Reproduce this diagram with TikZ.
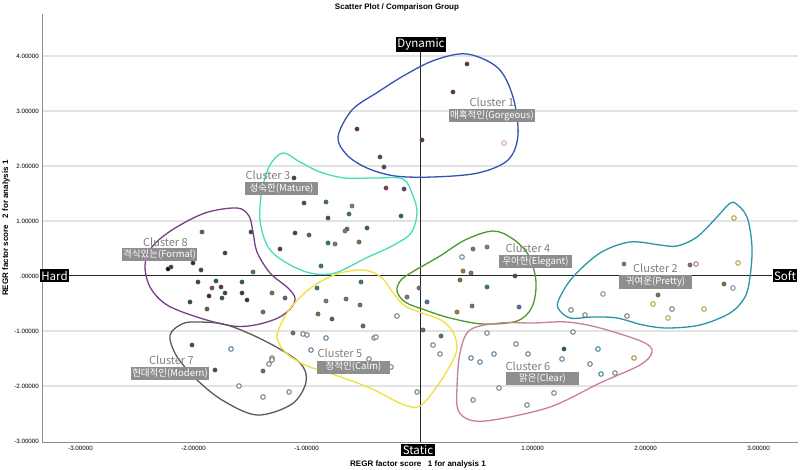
\documentclass[tikz,border=0pt]{standalone}
\usepackage{fontspec}
\setmainfont{Liberation Sans}
\newfontfamily\krfont{Noto Sans CJK KR}
\usepackage{tikz}
\usetikzlibrary{positioning}
\definecolor{axgray}{HTML}{8C8C8C}
\definecolor{gridgray}{HTML}{E3E3E3}
\definecolor{clgray}{HTML}{808080}
\definecolor{boxgray}{HTML}{8E8E8E}
\definecolor{hullA}{HTML}{3354AC}
\definecolor{hullB}{HTML}{2A95A8}
\definecolor{hullC}{HTML}{46DDBA}
\definecolor{hullD}{HTML}{4A9A30}
\definecolor{hullE}{HTML}{F0E03A}
\definecolor{hullF}{HTML}{CC7F98}
\definecolor{hullG}{HTML}{5A5A5A}
\definecolor{hullH}{HTML}{7A3E88}
\definecolor{dred}{HTML}{6E2A3A}
\definecolor{purp}{HTML}{5E3A70}
\definecolor{mag}{HTML}{9A2A50}
\definecolor{pinkl}{HTML}{D89AAA}
\definecolor{pinkd}{HTML}{A0707A}
\definecolor{navy}{HTML}{1F4A6A}
\definecolor{teal}{HTML}{2A7A90}
\definecolor{lilac}{HTML}{8A7A9E}
\definecolor{dgreen}{HTML}{1F5A48}
\definecolor{pgreen}{HTML}{2A6E3E}
\definecolor{steel}{HTML}{4A6E8E}
\definecolor{taupe}{HTML}{8A7870}
\definecolor{brown}{HTML}{7A5A34}
\definecolor{olive}{HTML}{7A7440}
\definecolor{dbrown}{HTML}{3A2A20}
\definecolor{dteal}{HTML}{1E5A6A}
\definecolor{dpurp}{HTML}{3E2A4E}
\definecolor{sage}{HTML}{6A7A6A}
\definecolor{slate}{HTML}{3E4A58}
\definecolor{rose}{HTML}{9A6A72}
\definecolor{porange}{HTML}{B07A34}
\definecolor{pgray}{HTML}{6C7078}
\definecolor{pblue}{HTML}{3A7AB0}
\definecolor{yel}{HTML}{A89A38}
\tikzstyle{dirbox} = [fill=black,text=white,font=\krfont\fontsize{11.5}{12}\selectfont,inner sep=1.5pt]
\tikzstyle{clustname} = [text=clgray,font=\krfont\fontsize{11}{12}\selectfont,inner sep=0pt]
\tikzstyle{clustbox} = [fill=boxgray,text=white,font=\krfont\fontsize{9.5}{10}\selectfont,inner sep=1pt,minimum width=73pt,minimum height=13pt]
\tikzstyle{ticklab} = [font=\fontsize{6.2}{7}\selectfont,inner sep=1pt]
\tikzstyle{axtitle} = [font=\bfseries\fontsize{8}{9}\selectfont,inner sep=0pt]
\tikzstyle{hull} = [line width=1.3pt]
\tikzstyle{dotf} = [line width=0.5pt,draw=black!65]
\tikzstyle{doto} = [line width=0.9pt,fill=white]

\begin{document}
\begin{tikzpicture}[x=1pt,y=-1pt]
	\useasboundingbox (0,0) rectangle (800,470);
	\fill[white] (0,0) rectangle (800,470);
	% grid and frame
	\foreach \gy in {56,111,166,221,331,386}
		\draw[gridgray,line width=1.2pt] (43,\gy) -- (798,\gy);
	\draw[axgray,line width=1pt] (42,14) -- (42,442) -- (798,442);
	\foreach \gy/\lab in {56/4.00000,111/3.00000,166/2.00000,221/1.00000,276/.00000,331/-1.00000,386/-2.00000,441/-3.00000}
		\node[ticklab,anchor=east] at (40,\gy) {\lab};
	\foreach \gx/\lab in {80.5/-3.00000,193.5/-2.00000,306.5/-1.00000,532.5/1.00000,645.5/2.00000,758.5/3.00000}
		\node[ticklab] at (\gx,448) {\lab};
	\node[axtitle] (title) at (397,7.5) {Scatter Plot / Comparison Group};
	\node[axtitle] (xtitle) at (418,464) {REGR factor score\ \ \ 1 for analysis 1};
	\node[axtitle,rotate=90] (ytitle) at (6,228) {REGR factor score\ \ \ 2 for analysis 1};

	% reference lines
	\node[dirbox] (dyn) at (421,44.5) {Dynamic};
	\node[dirbox] (stat) at (418,450) {Static};
	\node[dirbox] (hard) at (54.5,275.5) {Hard};
	\node[dirbox] (soft) at (785,275.5) {Soft};
	\draw[black!85,line width=1pt] (dyn.south -| 420,0) -- (420,442);
	\draw[black!85,line width=1pt] (hard.east) -- (soft.west);

	% cluster hulls
	\draw[hull,hullA] plot[smooth cycle,tension=0.55] coordinates {(338,137) (352,110) (378,92) (405,75) (435,60) (467,54) (498,68) (513,97) (518,135) (508,160) (478,173) (433,177) (395,176) (367,168) (347,155)};
	\draw[hull,hullC] plot[smooth cycle,tension=0.55] coordinates {(283,153) (300,162) (320,172) (345,178) (375,178) (403,179) (413,196) (417,213) (411,233) (392,246) (366,258) (335,273) (310,273) (285,262) (268,247) (260,220) (262,190) (270,165)};
	\draw[hull,hullH] plot[smooth cycle,tension=0.55] coordinates {(237,208) (249,216) (253,232) (257,252) (270,273) (288,288) (295,298) (291,308) (278,318) (255,325) (233,326) (200,318) (167,305) (150,287) (145,265) (152,247) (172,230) (205,213)};
	\draw[hull,hullG] plot[smooth cycle,tension=0.55] coordinates {(197,322) (227,325) (267,342) (300,363) (306,382) (292,404) (257,415) (222,400) (195,378) (176,355) (170,335) (182,324)};
	\draw[hull,hullE] plot[smooth cycle,tension=0.55] coordinates {(363,270) (381,277) (394,294) (405,306) (422,313) (441,320) (453,332) (457,348) (452,362) (438,385) (420,406) (402,404) (370,388) (335,375) (305,365) (285,352) (277,337) (282,322) (292,306) (312,287) (337,274)};
	\draw[hull,hullD] plot[smooth cycle,tension=0.55] coordinates {(493,231) (513,239) (529,256) (536,282) (532,307) (517,321) (483,324) (450,318) (425,310) (405,302) (397,291) (401,280) (414,271) (440,256) (465,240)};
	\draw[hull,hullB] plot[smooth cycle,tension=0.55] coordinates {(735,203) (747,217) (752,247) (750,277) (745,297) (730,313) (700,325) (667,328) (643,325) (617,318) (593,317) (570,318) (558,308) (560,297) (573,277) (600,253) (630,242) (660,245) (677,246) (697,237) (717,217) (728,205)};
	\draw[hull,hullF] plot[smooth cycle,tension=0.55] coordinates {(470,330) (460,353) (457,387) (458,410) (470,420) (493,420) (550,407) (600,383) (640,365) (652,352) (643,342) (600,328) (567,322) (533,323) (500,323)};

	% cases
	\foreach \px/\py/\c in {467/64/dred,453/92/dred,422/140/dred,357/129/dred,380/157/purp,384/167/purp,386/188/mag,404/189/purp,
		294/178/navy,304/203/purp,326/202/teal,352/206/lilac,349/214/teal,328/218/dgreen,401/216/pgreen,367/228/pgreen,347/229/steel,345/231/taupe,295/233/navy,309/235/brown,328/243/teal,335/244/taupe,359/242/olive,280/249/dred,321/266/teal,
		202/232/brown,251/232/navy,225/253/dgreen,193/263/dbrown,168/269/black,171/267/navy,201/270/navy,253/272/steel,198/282/navy,216/281/dgreen,242/282/dteal,212/288/brown,221/287/dred,225/293/dgreen,242/293/dpurp,209/296/dbrown,222/298/dgreen,247/300/dpurp,272/293/olive,285/298/steel,190/302/navy,207/309/brown,263/312/olive,
		361/282/teal,317/288/teal,326/301/taupe,346/299/sage,360/305/olive,318/314/olive,332/319/brown,363/326/steel,293/333/sage,192/345/slate,215/370/slate,263/371/steel,
		473/249/rose,487/247/lilac,463/271/porange,471/273/rose,460/280/olive,515/276/slate,487/287/teal,419/288/pgray,407/297/rose,427/302/pblue,472/306/sage,457/312/porange,519/307/pblue,423/330/steel,441/336/teal,
		624/264/porange,658/295/olive,724/284/olive,690/265/rose,564/349/dteal}
		\filldraw[dotf,fill=\c] (\px,\py) circle[radius=2.1pt];
	\foreach \px/\py/\c in {504/143/pinkl,462/257/pgray,397/316/pgray,303/334/pgray,307/335/pgray,326/338/steel,374/338/sage,376/337/sage,311/350/steel,369/359/pgray,391/367/pgray,433/345/pgray,440/354/pgray,417/392/pgray,
		231/349/steel,272/358/pgray,272/360/pgray,269/364/pgray,239/386/pgray,289/392/pgray,263/397/pgray,
		734/218/yel,696/264/pinkd,738/263/yel,603/294/lilac,733/288/lilac,653/304/yel,672/309/pgray,668/318/yel,704/309/yel,571/310/pgray,585/315/pgray,627/316/pgray,573/332/pgray,
		487/333/pgray,516/344/pgray,471/358/steel,480/362/steel,494/354/steel,528/354/steel,562/359/steel,598/349/teal,590/364/pgray,601/374/teal,615/373/sage,634/358/porange,499/388/pgray,554/393/pgray,473/400/pgray,527/405/pgray}
		\filldraw[doto,draw=\c] (\px,\py) circle[radius=2.3pt];

	% cluster labels
	\node[clustbox] (c1box) at (492,116) {매혹적인(Gorgeous)};
	\node[clustname] (c1) [above=2pt of c1box] {Cluster 1};
	\node[clustbox] (c2box) at (655.5,282) {귀여운(Pretty)};
	\node[clustname] (c2) [above=2pt of c2box] {Cluster 2};
	\node[clustbox] (c3box) at (281.5,189) {성숙한(Mature)};
	\node[clustname] (c3) [above=2pt of c3box,xshift=-13.5pt] {Cluster 3};
	\node[clustbox] (c4box) at (535.5,262) {우아한(Elegant)};
	\node[clustname] (c4) [above=2pt of c4box,xshift=-7.5pt] {Cluster 4};
	\node[clustbox] (c5box) at (353.5,367) {정적인(Calm)};
	\node[clustname] (c5) [above=2pt of c5box,xshift=-13.5pt] {Cluster 5};
	\node[clustbox] (c6box) at (542.5,378.5) {맑은(Clear)};
	\node[clustname] (c6) [above=1pt of c6box,xshift=-14.5pt] {Cluster 6};
	\node[clustbox] (c7box) at (170,373.5) {현대적인(Modern)};
	\node[clustname] (c7) [above=2pt of c7box,xshift=1.5pt] {Cluster 7};
	\node[clustbox] (c8box) at (159.5,254.5) {격식있는(Formal)};
	\node[clustname] (c8) [above=1pt of c8box,xshift=6pt] {Cluster 8};
\end{tikzpicture}
\end{document}
